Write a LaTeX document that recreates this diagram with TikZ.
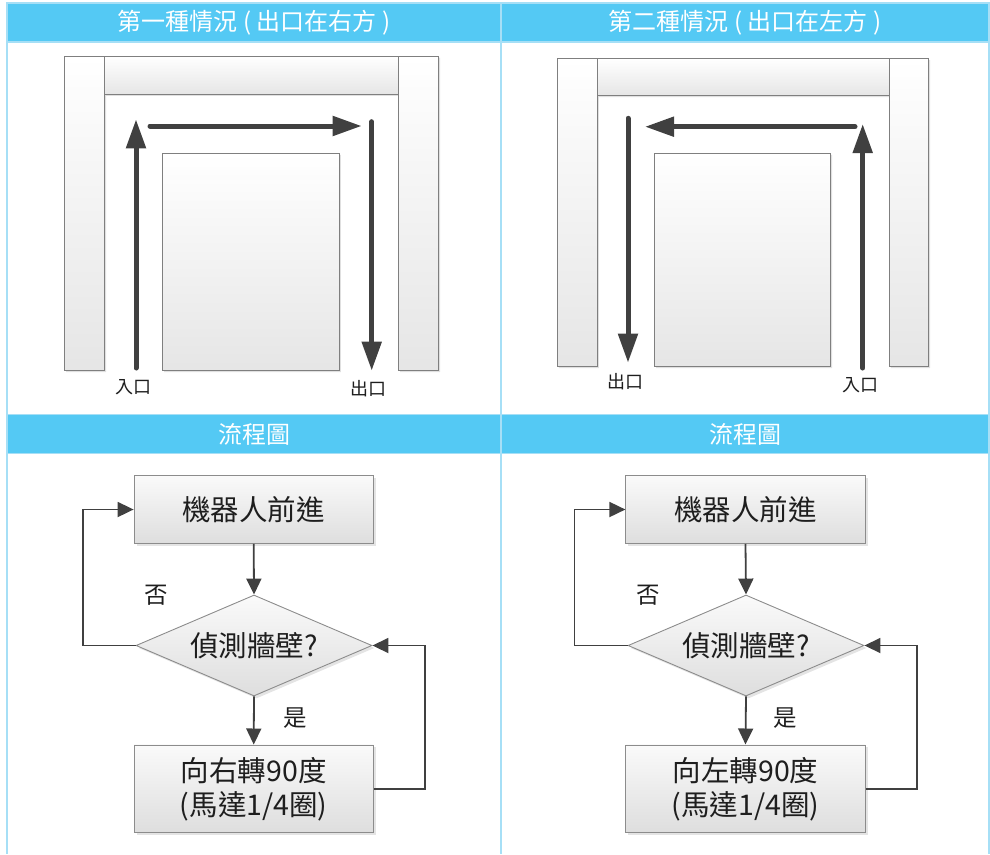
\documentclass[tikz,border=0pt]{standalone}
\usepackage{fontspec}
\setmainfont{Noto Sans CJK TC}
\usetikzlibrary{arrows.meta,shapes.geometric,shadows}
\definecolor{hdr}{HTML}{54C9F4}
\definecolor{hdrline}{HTML}{A6DFF6}
\definecolor{wallline}{HTML}{7F7F7F}
\definecolor{arrowc}{HTML}{404040}
\definecolor{txt}{HTML}{1E1E1E}
\begin{document}
\begin{tikzpicture}[x=1pt,y=-1pt,
  wall/.style={draw=wallline, line width=0.9pt, top color=white, bottom color=black!10},
  route/.style={draw=arrowc, line width=5pt, line cap=round, -{Triangle[length=29pt,width=19pt]}},
  hdrtext/.style={text=white, font=\fontsize{24}{28}\selectfont},
  maplabel/.style={text=txt, font=\fontsize{18}{21}\selectfont},
  stepbox/.style={draw=black!45, line width=0.9pt, top color=black!2, bottom color=black!13,
    minimum width=239.3pt, inner sep=0pt, text=txt, font=\fontsize{28.5}{34}\selectfont, align=center,
    drop shadow={shadow xshift=2.5pt, shadow yshift=-2.5pt, fill=black!15, opacity=0.7}},
  decision/.style={diamond, aspect=2.33, draw=black!45, line width=0.9pt, top color=black!2, bottom color=black!13,
    minimum width=236pt, minimum height=101pt, inner sep=0pt, text=txt, font=\fontsize{28.5}{34}\selectfont,
    drop shadow={shadow xshift=2.5pt, shadow yshift=-2.5pt, fill=black!15, opacity=0.7}},
  flow/.style={draw=arrowc, line width=1.8pt, -{Triangle[length=16pt,width=15pt]}},
  ynlabel/.style={text=txt, font=\fontsize{23.5}{27}\selectfont}
]
\useasboundingbox (0,0) rectangle (990,854);
% table
\fill[hdr] (7,3) rectangle (989,42);
\draw[hdrline, line width=1.5pt] (7,3) rectangle (989,42);
\fill[hdr] (7,414.5) rectangle (989,453.5);
\draw[hdrline, line width=1.5pt] (7,414.5) rectangle (989,453.5);
\draw[hdrline, line width=2pt] (7,3) -- (7,854) (501,3) -- (501,854) (989,3) -- (989,854);
\node[hdrtext] (h1) at (254,22.5) {第一種情況 ( 出口在右方 )};
\node[hdrtext] (h2) at (745,22.5) {第二種情況 ( 出口在左方 )};
\node[hdrtext] (h3) at (254,434) {流程圖};
\node[hdrtext] (h4) at (745,434) {流程圖};
% maze 1
\fill[black!12] (66.2,57.5) rectangle (106.2,372.2) (400.2,57.5) rectangle (440.2,372.2) (164.2,154.8) rectangle (340.8,372.2) (106.2,57.5) rectangle (400.2,95.8);
\path[wall] (64.7,56) rectangle (104.7,370.7);
\path[wall] (104.7,56) rectangle (398.7,94.3);
\path[wall] (398.7,56) rectangle (438.7,370.7);
\path[wall] (162.7,153.3) rectangle (339.3,370.7);
\coordinate (a1s) at (136,368);
\coordinate (a1t) at (136,119.3);
\coordinate (a2s) at (150,126);
\coordinate (a2t) at (361.7,126);
\coordinate (a3s) at (371.7,121.7);
\coordinate (a3t) at (371.7,370.7);
\draw[route] (a1s) -- (a1t);
\draw[route] (a2s) -- (a2t);
\draw[route] (a3s) -- (a3t);
\node[maplabel] (in1) at (133,386.7) {入口};
\node[maplabel] (out1) at (368,389) {出口};
% maze 2
\fill[black!12] (558.8,60.2) rectangle (598.8,368.2) (890.8,60.2) rectangle (930.2,368.2) (656.2,154.8) rectangle (832.2,368.2) (598.8,60.2) rectangle (890.8,97.2);
\path[wall] (557.3,58.7) rectangle (597.3,366.7);
\path[wall] (597.3,58.7) rectangle (889.3,95.7);
\path[wall] (889.3,58.7) rectangle (928.7,366.7);
\path[wall] (654.7,153.3) rectangle (830.7,366.7);
\coordinate (b1s) at (628,118.3);
\coordinate (b1t) at (628,362.7);
\coordinate (b2s) at (855,126.7);
\coordinate (b2t) at (645,126.7);
\coordinate (b3s) at (862.7,368);
\coordinate (b3t) at (862.7,124);
\draw[route] (b1s) -- (b1t);
\draw[route] (b2s) -- (b2t);
\draw[route] (b3s) -- (b3t);
\node[maplabel] (out2) at (625,381.7) {出口};
\node[maplabel] (in2) at (860,385) {入口};
% flow left
\node[stepbox, minimum height=67.6pt] (L1) at (253.7,509.5) {機器人前進};
\node[decision] (Ld) at (254,645.5) {偵測牆壁?};
\node[stepbox, minimum height=87.7pt] (L2) at (253.7,788.8) {向右轉90度\\(馬達1/4圈)};
\draw[flow] (L1.south) -- (Ld.north);
\draw[flow] (Ld.south) -- (L2.north);
\draw[flow] (Ld.west) -- ++(-52.7,0) |- (L1.west);
\draw[flow] (L2.east) -- ++(51,0) |- (Ld.east);
\node[ynlabel] (Lno) at (156.7,595) {否};
\node[ynlabel] (Lyes) at (295,718) {是};
% flow right
\node[stepbox, minimum height=67.6pt] (R1) at (745.5,509.5) {機器人前進};
\node[decision] (Rd) at (746,645.5) {偵測牆壁?};
\node[stepbox, minimum height=87.7pt] (R2) at (745.5,788.8) {向左轉90度\\(馬達1/4圈)};
\draw[flow] (R1.south) -- (Rd.north);
\draw[flow] (Rd.south) -- (R2.north);
\draw[flow] (Rd.west) -- ++(-53,0) |- (R1.west);
\draw[flow] (R2.east) -- ++(51.7,0) |- (Rd.east);
\node[ynlabel] (Rno) at (648,595) {否};
\node[ynlabel] (Ryes) at (785,718) {是};
\end{tikzpicture}
\end{document}
